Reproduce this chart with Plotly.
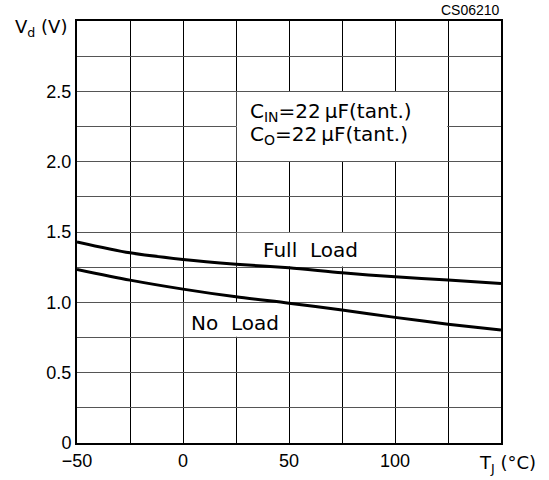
import plotly.graph_objects as go

temps = [-50, -25, 0, 25, 50, 75, 100, 125, 150]
vd_full_load = [1.430, 1.352, 1.305, 1.271, 1.245, 1.210, 1.181, 1.158, 1.134]
vd_no_load = [1.234, 1.158, 1.094, 1.039, 0.994, 0.945, 0.893, 0.845, 0.803]

x_tick_vals = [-50, -25, 0, 25, 50, 75, 100, 125, 150]
x_tick_text = ["\u221250", "", "0", "", "50", "", "100", "", ""]
y_tick_vals = [0, 0.25, 0.5, 0.75, 1.0, 1.25, 1.5, 1.75, 2.0, 2.25, 2.5, 2.75, 3.0]
y_tick_text = ["0", "", "0.5", "", "1.0", "", "1.5", "", "2.0", "", "2.5", "", ""]

FONT = "Liberation Sans"
FONT2 = "DejaVu Sans"

fig = go.Figure()
for ys in (vd_full_load, vd_no_load):
    fig.add_trace(go.Scatter(x=temps, y=ys, mode="lines",
                             line=dict(color="black", width=3, shape="spline", smoothing=0.8),
                             showlegend=False, hoverinfo="skip"))

# white label backgrounds hiding inner gridlines
dx, dy = 0.35, 0.005
boxes = [(25, 125, 2.0, 2.5), (25, 100, 1.25, 1.5), (0, 50, 0.75, 1.0)]
for x0, x1, y0, y1 in boxes:
    fig.add_shape(type="rect", xref="x", yref="y", x0=x0 + dx, x1=x1 - dx, y0=y0 + dy, y1=y1 - dy,
                  fillcolor="white", line=dict(width=0), layer="between")

fig.add_annotation(x=30.5, y=2.353, xref="x", yref="y", xanchor="left", yanchor="middle",
                   text="C<sub>IN</sub>=22\u2009\u03bcF(tant.)",
                   showarrow=False, font=dict(family=FONT2, size=20, color="black"))
fig.add_annotation(x=30.5, y=2.187, xref="x", yref="y", xanchor="left", yanchor="middle",
                   text="C<sub>O</sub>=22\u2009\u03bcF(tant.)",
                   showarrow=False, font=dict(family=FONT2, size=20, color="black"))
fig.add_annotation(x=60, y=1.371, xref="x", yref="y", text="Full  Load", showarrow=False,
                   font=dict(family=FONT2, size=20, color="black"))
fig.add_annotation(x=24.5, y=0.854, xref="x", yref="y", text="No  Load", showarrow=False,
                   font=dict(family=FONT2, size=20, color="black"))
fig.add_annotation(x=1.0, y=1.0, xref="paper", yref="paper", xanchor="right", yanchor="middle",
                   text="CS06210", showarrow=False, yshift=11, xshift=1,
                   font=dict(family=FONT, size=14, color="black"))
fig.add_annotation(x=0, y=1.0, xref="paper", yref="paper", xanchor="right", yanchor="middle",
                   text="V<sub>d</sub> (V)", showarrow=False, xshift=-8, yshift=-7,
                   font=dict(family=FONT2, size=18, color="black"))
fig.add_annotation(x=150, y=0, xref="x", yref="paper", xanchor="center", yanchor="middle",
                   text="T<sub>J</sub> (\u00b0C)", showarrow=False, xshift=6, yshift=-21,
                   font=dict(family=FONT2, size=18, color="black"))

fig.update_xaxes(range=[-50, 150], tickvals=x_tick_vals, ticktext=x_tick_text,
                 showgrid=True, gridcolor="black", gridwidth=1,
                 showline=True, linecolor="black", linewidth=2, mirror=True,
                 ticks="", zeroline=False, tickfont=dict(family=FONT, size=18, color="black"))
fig.update_yaxes(range=[0, 3.0], tickvals=y_tick_vals, ticktext=y_tick_text,
                 showgrid=True, gridcolor="#555555", gridwidth=1.3,
                 showline=True, linecolor="black", linewidth=2, mirror=True,
                 ticks="", zeroline=False, tickfont=dict(family=FONT, size=18, color="black"))

fig.update_layout(width=549, height=480, autosize=False,
                  margin=dict(l=77, r=48, t=21, b=37, autoexpand=False),
                  plot_bgcolor="white", paper_bgcolor="white")

fig.write_html("out.html", config={"displayModeBar": False},
               post_script="document.body.style.margin='0';")
